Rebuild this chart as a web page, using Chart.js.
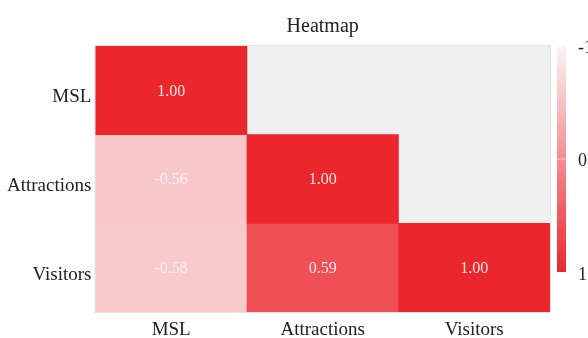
<!DOCTYPE html>
<html>
<head>
<meta charset="utf-8">
<script src="https://cdn.jsdelivr.net/npm/chart.js@4"></script>
<style>
  html, body { margin: 0; padding: 0; background: #fff; }
  #wrap { width: 588px; height: 338px; }
</style>
</head>
<body>
<div id="wrap"><canvas id="heat"></canvas></div>
<script>
const variables = ['MSL', 'Attractions', 'Visitors'];
// lower triangle of the correlation matrix, one array per row (null = not shown)
const rowMSL = [1.00, null, null];
const rowAttractions = [-0.56, 1.00, null];
const rowVisitors = [-0.58, 0.59, 1.00];
const rows = [rowMSL, rowAttractions, rowVisitors];
const colorbarTicks = [-1, 0, 1];

const serif = '"Liberation Serif", "Times New Roman", serif';

// white -> red, over -1..1
function corrColor(v) {
    const t = (v + 1) / 2;
    const lo = [252, 245, 246], hi = [235, 38, 45];
    const c = lo.map((l, k) => Math.round(l + (hi[k] - l) * t));
    return 'rgb(' + c.join(',') + ')';
}

const datasets = rows.map((vals, i) => ({
    label: variables[i],
    data: vals.map(v => v === null ? null : [i, i + 1]),
    corr: vals,
    backgroundColor: vals.map(v => v === null ? 'transparent' : corrColor(v)),
    borderWidth: 0,
    barPercentage: 1,
    categoryPercentage: 1,
    grouped: false
}));

// grey panel behind the cells
const panelBg = {
    id: 'panelBg',
    beforeDatasetsDraw(chart) {
        const { ctx, chartArea: a } = chart;
        ctx.save();
        ctx.fillStyle = '#f0f0f0';
        ctx.fillRect(a.left, a.top, a.right - a.left, a.bottom - a.top);
        ctx.strokeStyle = '#e4e4e4';
        ctx.lineWidth = 1;
        ctx.strokeRect(a.left - 0.5, a.top - 0.5, a.right - a.left + 1, a.bottom - a.top + 1);
        ctx.restore();
    }
};

// title centred over the panel
const panelTitle = {
    id: 'panelTitle',
    afterDraw(chart) {
        const { ctx, chartArea: a } = chart;
        ctx.save();
        ctx.font = '20px ' + serif;
        ctx.fillStyle = '#222';
        ctx.textAlign = 'center';
        ctx.textBaseline = 'middle';
        ctx.fillText('Heatmap', (a.left + a.right) / 2, 27);
        ctx.restore();
    }
};

// numbers inside cells
const cellText = {
    id: 'cellText',
    afterDatasetsDraw(chart) {
        const ctx = chart.ctx;
        ctx.save();
        ctx.font = '16px ' + serif;
        ctx.fillStyle = 'rgba(255,244,244,0.92)';
        ctx.textAlign = 'center';
        ctx.textBaseline = 'middle';
        chart.data.datasets.forEach((ds, i) => {
            chart.getDatasetMeta(i).data.forEach((bar, j) => {
                const v = ds.corr[j];
                if (v === null) return;
                const y = (bar.y + bar.base) / 2;
                ctx.fillText(v.toFixed(2), bar.x, y + 1);
            });
        });
        ctx.restore();
    }
};

// colour bar on the right
const colorBar = {
    id: 'colorBar',
    afterDraw(chart) {
        const { ctx, chartArea: a } = chart;
        const x = a.right + 7, w = 9;
        const top = a.top - 1, bottom = a.bottom - 40;
        ctx.save();
        const g = ctx.createLinearGradient(0, top, 0, bottom);
        g.addColorStop(0, corrColor(-1));
        g.addColorStop(1, corrColor(1));
        ctx.fillStyle = g;
        ctx.fillRect(x, top, w, bottom - top);
        ctx.font = '18px ' + serif;
        ctx.fillStyle = '#222';
        ctx.textAlign = 'left';
        ctx.textBaseline = 'middle';
        colorbarTicks.forEach(t => {
            const y = top + (t + 1) / 2 * (bottom - top);
            ctx.strokeStyle = 'rgba(255,255,255,0.6)';
            ctx.beginPath();
            ctx.moveTo(x, y + 0.5);
            ctx.lineTo(x + w, y + 0.5);
            ctx.stroke();
            ctx.fillText(String(t), x + 21, y + 3);
        });
        ctx.restore();
    }
};

new Chart(document.getElementById('heat'), {
    type: 'bar',
    data: { labels: variables, datasets: datasets },
    options: {
        responsive: true,
        maintainAspectRatio: false,
        animation: false,
        layout: { padding: { left: 3, right: 38, top: 46, bottom: 0 } },
        plugins: {
            legend: { display: false },
            tooltip: { enabled: false },
            title: { display: false }
        },
        scales: {
            x: {
                grid: { display: false, drawTicks: false },
                border: { display: false },
                afterFit: scale => { scale.height = 26; },
                ticks: {
                    color: '#222',
                    padding: 10,
                    font: { family: serif, size: 19, lineHeight: 0.84 }
                }
            },
            y: {
                type: 'linear',
                min: 0,
                max: 3,
                reverse: true,
                grid: { display: false, drawTicks: false },
                border: { display: false },
                afterBuildTicks: axis => {
                    axis.ticks = variables.map((_, i) => ({ value: i + 0.5 }));
                },
                ticks: {
                    color: '#222',
                    padding: 4,
                    labelOffset: 7,
                    font: { family: serif, size: 19 },
                    callback: v => variables[Math.floor(v)]
                }
            }
        }
    },
    plugins: [panelBg, cellText, colorBar, panelTitle]
});
</script>
</body>
</html>
